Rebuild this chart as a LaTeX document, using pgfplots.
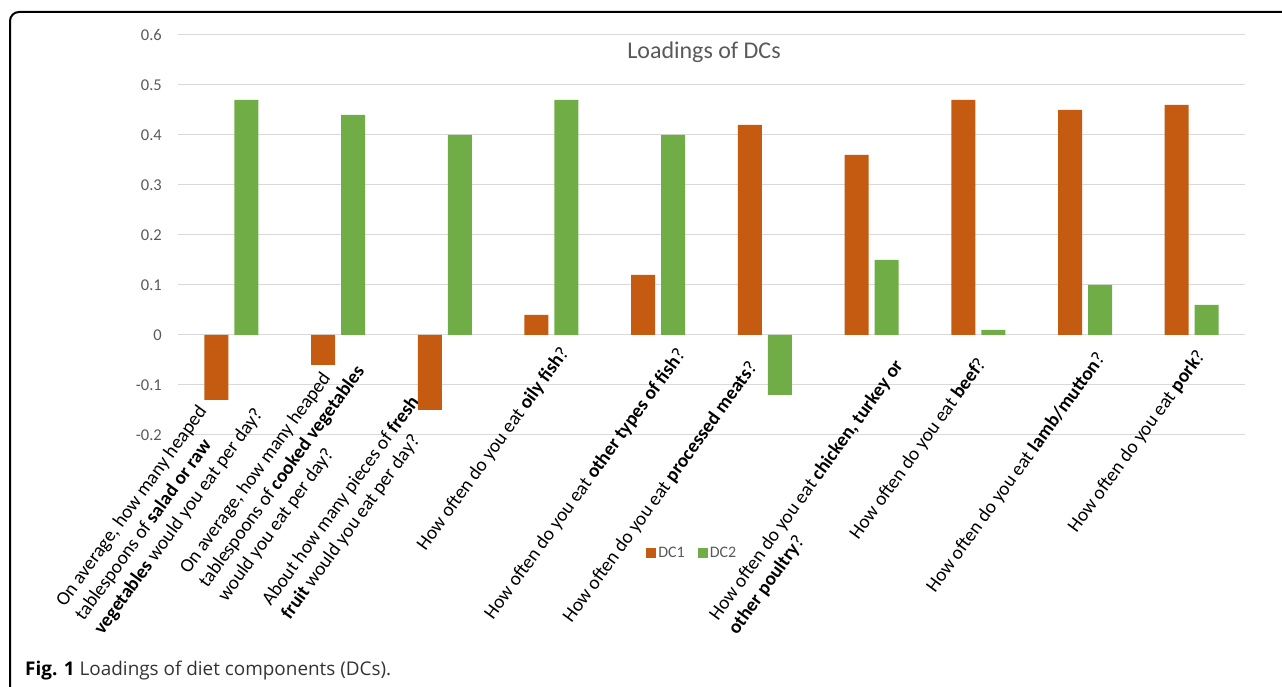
\documentclass[border=0pt]{standalone}
\usepackage{pgfplots}
\pgfplotsset{compat=1.18}
\usepackage{fontspec}
\setmainfont{Carlito}
\newfontfamily\capfont{Open Sans}
\definecolor{dcone}{HTML}{C55A11}
\definecolor{dctwo}{HTML}{70AD47}
\definecolor{gridc}{HTML}{D9D9D9}
\definecolor{txtg}{HTML}{595959}
\begin{document}
\begin{tikzpicture}[x=1pt,y=1pt]
\useasboundingbox (0,0) rectangle (1282,687);
\draw[line width=2pt, rounded corners=9pt] (10,-10) -- (10,675) -- (1295,675);
\node[anchor=base west, inner sep=0pt, font=\capfont\fontsize{18.9}{22}\selectfont] at (25,11)
  {\textbf{Fig. 1}\ \textcolor[HTML]{333333}{Loadings of diet components (DCs).}};
\node[anchor=base, inner sep=0pt, text=txtg, font=\fontsize{24}{28}\selectfont] at (704,628) {Loadings of DCs};
\begin{axis}[
  at={(178pt,252pt)}, anchor=south west,
  scale only axis, width=1067pt, height=400pt,
  xmin=-0.5, xmax=9.5, ymin=-0.2, ymax=0.6,
  ybar=6pt, bar width=24pt,
  axis line style={draw=none},
  major tick length=0pt,
  ymajorgrids, grid style={draw=gridc, line width=1pt},
  ytick={-0.2,-0.1,0,0.1,0.2,0.3,0.4,0.5,0.6},
  yticklabels={-0.2,-0.1,0,0.1,0.2,0.3,0.4,0.5,0.6},
  yticklabel style={anchor=east, inner sep=0pt, xshift=-16pt, text=txtg, font=\fontsize{16.5}{19}\selectfont},
  xtick={0,1,2,3,4,5,6,7,8,9},
  xticklabels={
    {On average, how many heaped\\tablespoons of \textbf{salad or raw}\\\textbf{vegetables} would you eat per day?},
    {On average, how many heaped\\tablespoons of \textbf{cooked vegetables}\\would you eat per day?},
    {About how many pieces of \textbf{fresh}\\\textbf{fruit} would you eat per day?},
    {How often do you eat \textbf{oily fish}?},
    {How often do you eat \textbf{other types of fish}?},
    {How often do you eat \textbf{processed meats}?},
    {How often do you eat \textbf{chicken, turkey or}\\\textbf{other poultry}?},
    {How often do you eat \textbf{beef}?},
    {How often do you eat \textbf{lamb/mutton}?},
    {How often do you eat \textbf{pork}?}
  },
  xticklabel style={
    xshift={{-125.8,-108.8,-152.2,-123.2,-162.6,-190.6,-132,-117.4,-147.4,-112.4}[\ticknum]},
    yshift={{-202.5,-169.2,-187.5,-118.2,-187.5,-190.8,-202.5,-107.5,-160.8,-100.8}[\ticknum]},
    rotate=54, anchor=south west, align=left, inner sep=0pt,
    font=\fontsize{19.3}{23.5}\selectfont, text=black},
  legend columns=2,
  legend style={at={(0.482,-0.295)}, anchor=center, draw=none, fill=none,
    font=\fontsize{16}{19}\selectfont, text=txtg,
    /tikz/every even column/.append style={column sep=11pt},
    cells={anchor=west}},
  legend image code/.code={\fill[#1] (0pt,-5pt) rectangle (10pt,5pt);},
]
\addplot[fill=dcone, draw=none] coordinates {(0,-0.13) (1,-0.06) (2,-0.15) (3,0.04) (4,0.12) (5,0.42) (6,0.36) (7,0.47) (8,0.45) (9,0.46)};
\addplot[fill=dctwo, draw=none] coordinates {(0,0.47) (1,0.44) (2,0.40) (3,0.47) (4,0.40) (5,-0.12) (6,0.15) (7,0.01) (8,0.10) (9,0.06)};
\legend{DC1,DC2}
\end{axis}
\end{tikzpicture}
\end{document}
